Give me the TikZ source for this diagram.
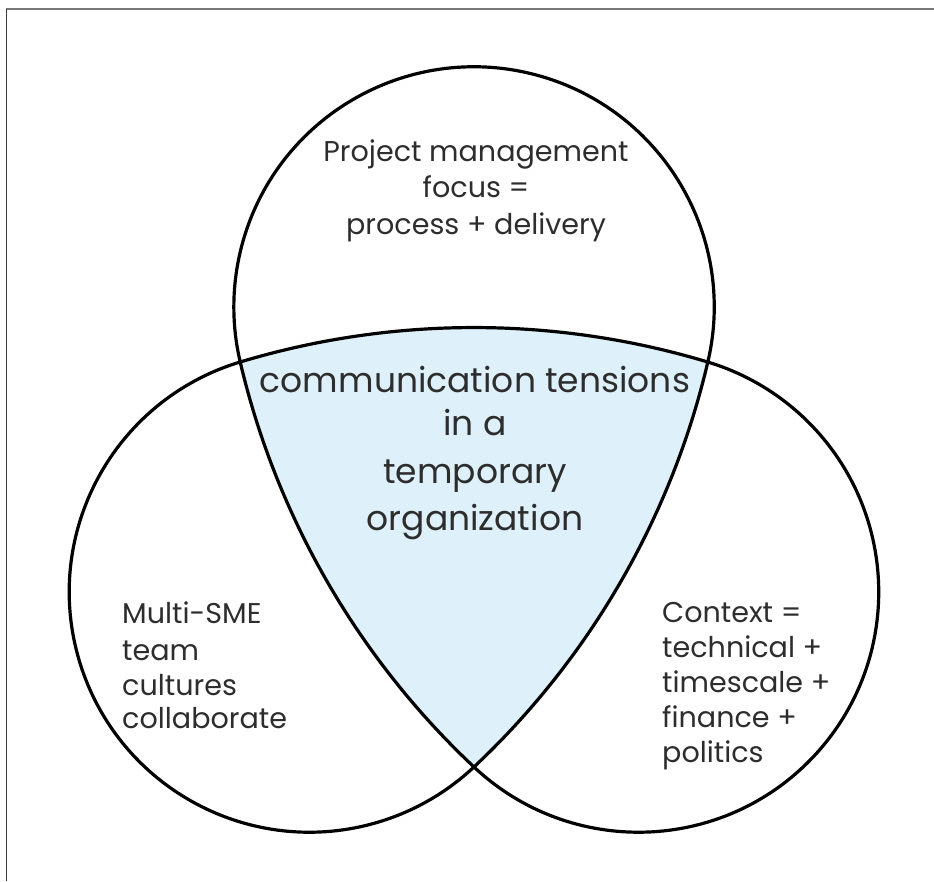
\documentclass[tikz,border=0pt]{standalone}
\usepackage{fontspec}
\setmainfont{Poppins}
\definecolor{lensblue}{RGB}{222,241,250}
\definecolor{txtgray}{RGB}{45,45,45}
\definecolor{topframe}{RGB}{120,120,120}
\definecolor{leftframe}{RGB}{60,60,60}
\tikzset{
  curve/.style={line width=3.2pt, black, line join=round},
  bigtxt/.style={font=\fontsize{34.5}{34.5}\selectfont, text=txtgray, inner sep=0pt, anchor=base},
  smalltxt/.style={font=\fontsize{28.6}{28.6}\selectfont, text=txtgray, inner sep=0pt},
}
\begin{document}
\begin{tikzpicture}[x=1pt,y=1pt]
\useasboundingbox (-474,-384) rectangle (460,497);
\fill[white] (-474,-384) rectangle (460,497);
% frame remnants
\draw[topframe, line width=2pt] (-468,488) -- (460,488);
\draw[leftframe, line width=1.7pt] (-467.5,488) -- (-467.5,-384);
% central shaded triangle
\fill[lensblue] (150:270) .. controls +(-76.8:159) and +(136.8:159) .. (-90:270)
  .. controls +(43.2:159) and +(-103.2:159) .. (30:270)
  .. controls +(163.2:159) and +(16.8:159) .. (150:270) -- cycle;
% trefoil outline
\draw[curve] (30:270) arc[start angle=-13.24, end angle=193.24, radius=240.2]
  .. controls +(-76.8:159) and +(136.8:159) .. (-90:270)
  arc[start angle=-133.24, end angle=73.24, radius=240.2]
  .. controls +(163.2:159) and +(16.8:159) .. (150:270)
  arc[start angle=106.76, end angle=313.24, radius=240.2]
  .. controls +(43.2:159) and +(-103.2:159) .. (30:270) -- cycle;
% central text
\node[bigtxt] (c1) at (1,104) {communication tensions};
\node[bigtxt] (c2) at (1,62) {in a};
\node[bigtxt] (c3) at (1,14) {temporary};
\node[bigtxt] (c4) at (1,-33) {organization};
% top text
\node[smalltxt, anchor=base] (t1) at (2,335) {Project management};
\node[smalltxt, anchor=base] (t2) at (2,299) {focus =};
\node[smalltxt, anchor=base] (t3) at (2,262) {process + delivery};
% left text
\node[smalltxt, anchor=base west] (l1) at (-352,-126) {Multi-SME};
\node[smalltxt, anchor=base west] (l2) at (-352,-163) {team};
\node[smalltxt, anchor=base west] (l3) at (-352,-198) {cultures};
\node[smalltxt, anchor=base west] (l4) at (-352,-231) {collaborate};
% right text
\node[smalltxt, anchor=base west] (r1) at (188,-125) {Context =};
\node[smalltxt, anchor=base west] (r2) at (188,-160) {technical +};
\node[smalltxt, anchor=base west] (r3) at (188,-195) {timescale +};
\node[smalltxt, anchor=base west] (r4) at (188,-230) {finance +};
\node[smalltxt, anchor=base west] (r5) at (188,-265) {politics};
\end{tikzpicture}
\end{document}
